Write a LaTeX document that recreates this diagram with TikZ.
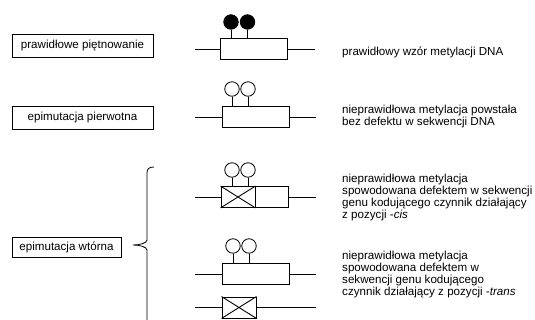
\documentclass[tikz,border=0pt]{standalone}
\usepackage{fontspec}
\setmainfont{Liberation Sans}
\begin{document}
\begin{tikzpicture}[x=1pt,y=-1pt,
  every node/.style={font=\fontsize{11.6}{12}\selectfont},
  label box/.style={draw,line width=0.8pt,minimum height=23pt,inner sep=0pt},
  gene/.style={draw,line width=0.9pt,minimum width=67pt,minimum height=21pt,inner sep=0pt},
  defect/.style={draw,line width=0.9pt,minimum width=34pt,minimum height=21pt,inner sep=0pt},
  strand/.style={line width=0.8pt},
  meth/.style={draw,line width=0.8pt,circle,minimum size=14.5pt,inner sep=0pt},
  methfull/.style={meth,fill=black},
  note/.style={anchor=west,align=left,inner sep=0pt}]
\useasboundingbox (0,0) rectangle (535,320);

% category labels
\node[label box,minimum width=141pt] (lab1) at (82.5,46) {prawidłowe piętnowanie};
\node[label box,minimum width=141pt] (lab2) at (82.5,117.5) {epimutacja pierwotna};
\node[label box,minimum width=109pt,minimum height=20pt] (lab3) at (66.5,247) {epimutacja wtórna};

% brace grouping the secondary cases
\draw[line width=0.8pt] (154,167) .. controls (149,167) and (147,169) .. (147,173) -- (147,240)
  .. controls (147,243) and (140,245) .. (133,245)
  .. controls (140,245) and (147,247) .. (147,250) -- (147,320);

% correct imprinting: methylated sites
\coordinate (l1a) at (195,49); \coordinate (l1b) at (315,49);
\node[gene] (g1) at (253.5,48.5) {};
\draw[strand] (l1a) -- (g1.west |- l1a); \draw[strand] (g1.east |- l1b) -- (l1b);
\node[methfull] (m1a) at (231,22) {};
\node[methfull] (m1b) at (247.5,22) {};
\draw[strand] (m1a.south) -- (m1a.south |- g1.north);
\draw[strand] (m1b.south) -- (m1b.south |- g1.north);

% primary epimutation
\coordinate (l2a) at (195,117); \coordinate (l2b) at (316,117);
\node[gene] (g2) at (255.5,117) {};
\draw[strand] (l2a) -- (g2.west |- l2a); \draw[strand] (g2.east |- l2b) -- (l2b);
\node[meth] (m2a) at (232,89) {};
\node[meth] (m2b) at (248,89) {};
\draw[strand] (m2a.south) -- (m2a.south |- g2.north);
\draw[strand] (m2b.south) -- (m2b.south |- g2.north);

% secondary epimutation, cis
\coordinate (l3a) at (195,197); \coordinate (l3b) at (316,197);
\node[gene] (g3) at (254.5,197) {};
\draw[strand] (l3a) -- (g3.west |- l3a); \draw[strand] (g3.east |- l3b) -- (l3b);
\node[defect,anchor=west] (d3) at (g3.west) {};
\draw[line width=0.9pt] (d3.north west) -- (d3.south east) (d3.south west) -- (d3.north east);
\node[meth] (m3a) at (232,170) {};
\node[meth] (m3b) at (248,170) {};
\draw[strand] (m3a.south) -- (m3a.south |- g3.north);
\draw[strand] (m3b.south) -- (m3b.south |- g3.north);

% secondary epimutation, trans
\coordinate (l4a) at (195,274); \coordinate (l4b) at (316,274);
\node[gene] (g4) at (255.5,273.5) {};
\draw[strand] (l4a) -- (g4.west |- l4a); \draw[strand] (g4.east |- l4b) -- (l4b);
\node[meth] (m4a) at (233,246) {};
\node[meth] (m4b) at (249,246) {};
\draw[strand] (m4a.south) -- (m4a.south |- g4.north);
\draw[strand] (m4b.south) -- (m4b.south |- g4.north);

\coordinate (l5a) at (195,307.5); \coordinate (l5b) at (316,307.5);
\node[defect] (d5) at (239,307.5) {};
\draw[strand] (l5a) -- (d5.west); \draw[strand] (d5.east) -- (l5b);
\draw[line width=0.9pt] (d5.north west) -- (d5.south east) (d5.south west) -- (d5.north east);

% descriptions
\node[note] (t1) at (342,52) {prawidłowy wzór metylacji DNA};
\node[note] (t2) at (342,116.5) {nieprawidłowa metylacja powstała\\bez defektu w sekwencji DNA};
\node[note] (t3) at (342,198) {nieprawidłowa metylacja\\spowodowana defektem w sekwencji\\genu kodującego czynnik działający\\z pozycji -\textit{cis}};
\node[note] (t4) at (342,274.5) {nieprawidłowa metylacja\\spowodowana defektem w\\sekwencji genu kodującego\\czynnik działający z pozycji -\textit{trans}};
\end{tikzpicture}
\end{document}
